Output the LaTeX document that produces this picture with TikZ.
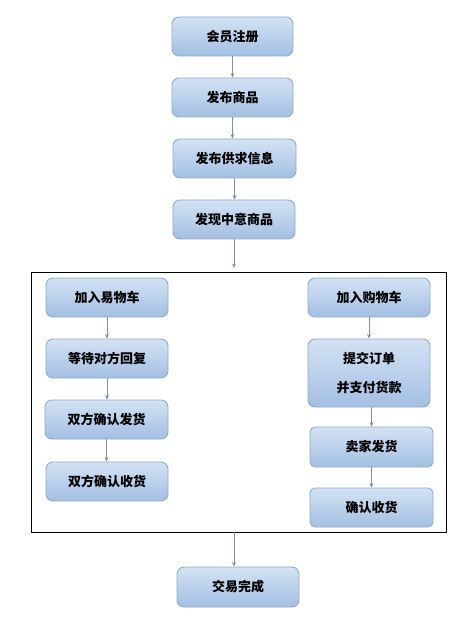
\documentclass[tikz,border=0pt]{standalone}
\usepackage{fontspec}
\newfontfamily\cjk{Noto Sans CJK SC}
\usetikzlibrary{arrows.meta}
\definecolor{boxtop}{HTML}{D3E2F3}
\definecolor{boxbot}{HTML}{A3BFE3}
\definecolor{boxline}{HTML}{8FAAD0}
\definecolor{arrowc}{HTML}{7D91AC}
\tikzset{
  stepbox/.style={draw=boxline, line width=0.9pt, rounded corners=7pt,
    top color=boxtop, bottom color=boxbot, inner sep=0pt, align=center,
    font={\cjk\bfseries\fontsize{13}{29}\selectfont}, text=black},
  flow/.style={draw=arrowc, line width=0.9pt, -{Stealth[length=4.5pt,width=4pt]}},
}
\begin{document}
\begin{tikzpicture}[x=1pt,y=-1pt]
\useasboundingbox (0,0) rectangle (474,617);
% top chain
\node[stepbox, minimum width=121pt, minimum height=39pt] (n1) at (232.5,36.5) {会员注册};
\node[stepbox, minimum width=121pt, minimum height=39pt] (n2) at (232.5,97.5) {发布商品};
\node[stepbox, minimum width=123pt, minimum height=39pt] (n3) at (234.5,158.5) {发布供求信息};
\node[stepbox, minimum width=122pt, minimum height=39pt] (n4) at (234,219.5) {发现中意商品};
% frame
\node[draw=black, line width=0.8pt, minimum width=415pt, minimum height=260pt, inner sep=0pt] (frame) at (238.5,402) {};
\coordinate (fin) at (234,268);
\coordinate (fout) at (234,532);
% left column
\node[stepbox, minimum width=122pt, minimum height=39pt] (l1) at (107,297.5) {加入易物车};
\node[stepbox, minimum width=122pt, minimum height=39pt] (l2) at (107,358.5) {等待对方回复};
\node[stepbox, minimum width=123pt, minimum height=39pt] (l3) at (106.5,419.5) {双方确认发货};
\node[stepbox, minimum width=122pt, minimum height=39pt] (l4) at (107,481.5) {双方确认收货};
% right column
\node[stepbox, minimum width=122pt, minimum height=39pt] (r1) at (369,297.5) {加入购物车};
\node[stepbox, minimum width=122pt, minimum height=68pt] (r2) at (369,373) {提交订单\\并支付货款};
\node[stepbox, minimum width=123pt, minimum height=40pt, rounded corners=5pt] (r3) at (371.5,447) {卖家发货};
\node[stepbox, minimum width=123pt, minimum height=39pt, rounded corners=5pt] (r4) at (371.5,507.5) {确认收货};
% bottom
\node[stepbox, minimum width=122pt, minimum height=40pt] (b) at (238,587) {交易完成};
% connectors
\draw[flow] (n1) -- (n2);
\draw[flow] (n2.south) -- (n2.south |- n3.north);
\draw[flow] (n3.south) -- (n3.south |- n4.north);
\draw[flow] (n4.south) -- (n4.south |- fin);
\draw[flow] (l1) -- (l2);
\draw[flow] (l2.south) -- (l2.south |- l3.north);
\draw[flow] (l3.south) -- (l3.south |- l4.north);
\draw[flow] (r1) -- (r2);
\draw[flow] (r2.south -| r3.north) -- (r3.north);
\draw[flow] (r3) -- (r4);
\draw[flow] (fout) -- (fout |- b.north);
\end{tikzpicture}
\end{document}
